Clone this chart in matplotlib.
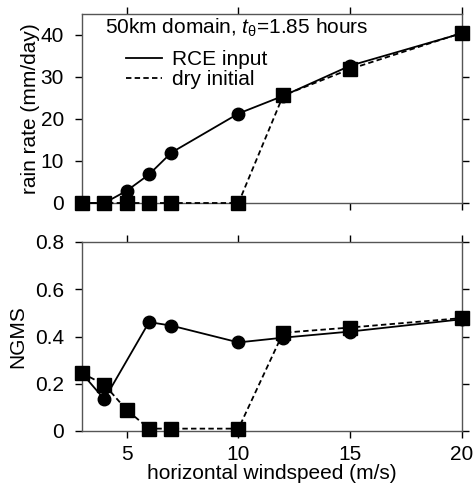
import matplotlib
matplotlib.use("Agg")
import matplotlib.pyplot as plt

plt.rcParams['font.family'] = ['Liberation Sans', 'DejaVu Sans']
plt.rcParams['mathtext.fontset'] = 'custom'
plt.rcParams['mathtext.it'] = 'Liberation Sans:italic'
plt.rcParams['mathtext.rm'] = 'Liberation Sans'

# Data
rce_x = [3, 4, 5, 6, 7, 10, 12, 15, 20]
rce_rain = [0, 0, 2.9, 6.8, 12.0, 21.3, 25.5, 32.7, 40.4]
dry_x = [3, 4, 5, 6, 7, 10, 12, 15, 20]
dry_rain = [0, 0, 0, 0, 0, 0, 25.6, 31.9, 40.5]

rce_ngms_x = [3, 4, 6, 7, 10, 12, 15, 20]
rce_ngms = [0.244, 0.134, 0.461, 0.446, 0.375, 0.395, 0.421, 0.473]
dry_ngms = [0.245, 0.196, 0.089, 0.01, 0.01, 0.01, 0.416, 0.438, 0.478]

xticks = [5, 10, 15, 20]
rain_ticks = [0, 10, 20, 30, 40]
ngms_ticks = [0, 0.2, 0.4, 0.6, 0.8]
ngms_ticklabels = ["0", "0.2", "0.4", "0.6", "0.8"]

FS = 15
fig = plt.figure(figsize=(4.74, 4.96), dpi=100)
W, H = 474, 496
ax1 = fig.add_axes([82 / W, 1 - 203 / H, 380 / W, 189 / H])
ax2 = fig.add_axes([82 / W, 1 - 431 / H, 380 / W, 189 / H])

lw = 1.3
ms_c = 9
ms_s = 9.5

for ax in (ax1, ax2):
    for s in ax.spines.values():
        s.set_color('#555555')
        s.set_linewidth(1.0)
    ax.tick_params(direction='out', length=5, width=1, top=True, right=True,
                   bottom=True, left=True, labelsize=FS, color='black')
    ax.tick_params(axis='y', pad=8)
    ax.tick_params(axis='x', pad=5)
    ax.set_xlim(3, 20)
    ax.set_xticks(xticks)
    ax.patch.set_visible(False)

ax1.plot(rce_x, rce_rain, '-', color='black', lw=lw, marker='o', ms=ms_c,
         label='RCE input', clip_on=False, zorder=3)
ax1.plot(dry_x, dry_rain, color='black', lw=lw, ls=(0, (3, 1.8)), marker='s',
         ms=ms_s, label='dry initial', clip_on=False, zorder=4)
ax1.set_ylim(0, 45)
ax1.set_yticks(rain_ticks)
ax1.tick_params(labelbottom=False)
ax1.set_ylabel('rain rate (mm/day)', fontsize=FS)
ax1.yaxis.set_label_coords(-0.11, 0.5)
ax1.text(0.06, 0.925, r'50km domain, $t_{\mathrm{θ}}$=1.85 hours', transform=ax1.transAxes,
         fontsize=FS, va='center', ha='left')
leg = ax1.legend(handles=[l for l in ax1.get_lines()], loc='upper left',
                 bbox_to_anchor=(0.115, 0.81), frameon=False, fontsize=FS,
                 handlelength=1.75, handletextpad=0.45, labelspacing=0.05,
                 borderaxespad=0, borderpad=0)
for h in leg.legend_handles:
    h.set_marker('')

ax2.plot(rce_ngms_x, rce_ngms, '-', color='black', lw=lw, marker='o', ms=ms_c,
         clip_on=False, zorder=3)
ax2.plot(dry_x, dry_ngms, color='black', lw=lw, ls=(0, (3, 1.8)), marker='s',
         ms=ms_s, clip_on=False, zorder=4)
ax2.set_ylim(0, 0.8)
ax2.set_yticks(ngms_ticks)
ax2.set_yticklabels(ngms_ticklabels)
ax2.set_ylabel('NGMS', fontsize=FS)
ax2.yaxis.set_label_coords(-0.145, 0.5)
ax2.set_xlabel('horizontal windspeed (m/s)', fontsize=FS, labelpad=0)

fig.savefig('out.png', dpi=100)
